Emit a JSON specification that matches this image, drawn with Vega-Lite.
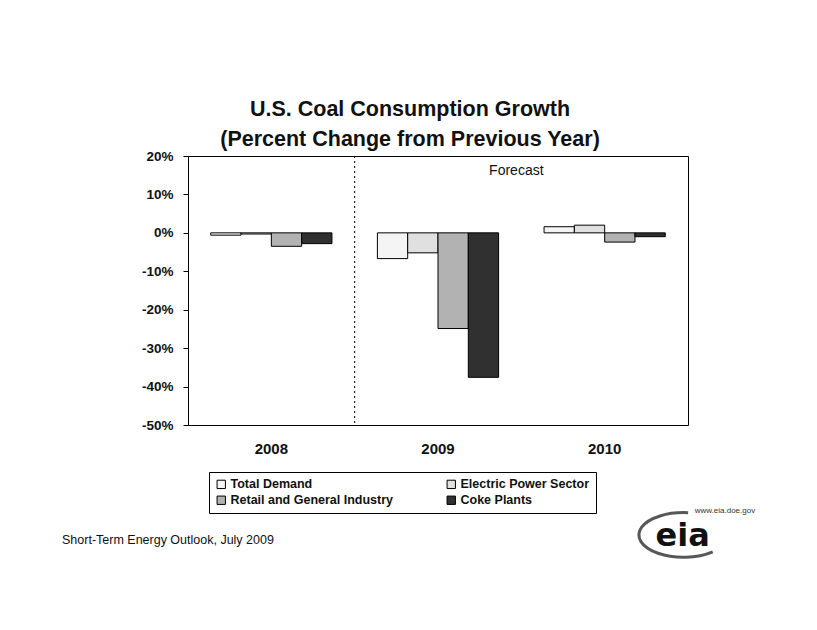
{
  "$schema": "https://vega.github.io/schema/vega-lite/v6.json",
  "width": 500,
  "height": 269,
  "autosize": {"type": "none"},
  "padding": {"left": 188, "top": 156, "right": 129, "bottom": 205},
  "background": "white",
  "title": {
    "text": ["U.S. Coal Consumption Growth", "(Percent Change from Previous Year)"],
    "font": "Liberation Sans",
    "fontSize": 21.5,
    "fontWeight": "bold",
    "lineHeight": 30,
    "anchor": "middle",
    "frame": "group",
    "dx": -28,
    "offset": -1,
    "color": "#111"
  },
  "config": {
    "view": {"stroke": "#000", "strokeWidth": 1},
    "font": "Liberation Sans",
    "axisY": {"labelOverlap": false, "labelFlush": false, "labelBound": false}
  },
  "layer": [
    {
      "data": {"values": [
        {"year": "2008", "series": "Total Demand", "pct": -0.6},
        {"year": "2008", "series": "Electric Power Sector", "pct": -0.3},
        {"year": "2008", "series": "Retail and General Industry", "pct": -3.5},
        {"year": "2008", "series": "Coke Plants", "pct": -2.8},
        {"year": "2009", "series": "Total Demand", "pct": -6.7},
        {"year": "2009", "series": "Electric Power Sector", "pct": -5.2},
        {"year": "2009", "series": "Retail and General Industry", "pct": -24.9},
        {"year": "2009", "series": "Coke Plants", "pct": -37.6},
        {"year": "2010", "series": "Total Demand", "pct": 1.6},
        {"year": "2010", "series": "Electric Power Sector", "pct": 2.0},
        {"year": "2010", "series": "Retail and General Industry", "pct": -2.4},
        {"year": "2010", "series": "Coke Plants", "pct": -1.0}
      ]},
      "mark": {"type": "bar", "stroke": "#000", "strokeWidth": 1},
      "encoding": {
        "x": {
          "field": "year", "type": "nominal",
          "scale": {"paddingInner": 0, "paddingOuter": 0},
          "axis": {
            "title": null, "labelAngle": 0, "ticks": false, "domain": false,
            "labelFont": "Liberation Sans", "labelFontWeight": "bold", "labelFontSize": 15,
            "labelColor": "#111", "labelPadding": 16
          }
        },
        "xOffset": {
          "field": "series", "type": "nominal",
          "sort": ["Total Demand", "Electric Power Sector", "Retail and General Industry", "Coke Plants"],
          "scale": {"paddingInner": 0, "paddingOuter": 0.75}
        },
        "y": {
          "field": "pct", "type": "quantitative",
          "scale": {"domain": [-50, 20], "nice": false, "zero": false},
          "axis": {
            "title": null, "grid": false, "values": [-50, -40, -30, -20, -10, 0, 10, 20],
            "tickCount": 8,
            "labelExpr": "datum.value + '%'", "labelOverlap": false, "labelFlush": false,
            "labelFont": "Liberation Sans", "labelFontWeight": "bold", "labelFontSize": 13.5,
            "labelColor": "#111", "tickColor": "#000", "tickSize": 5, "labelPadding": 10,
            "domainColor": "#000"
          }
        },
        "color": {
          "field": "series", "type": "nominal",
          "scale": {
            "domain": ["Total Demand", "Electric Power Sector", "Retail and General Industry", "Coke Plants"],
            "range": ["#f4f4f4", "#e0e0e0", "#b2b2b2", "#303030"]
          },
          "legend": {
            "title": null, "orient": "none", "legendX": 21, "legendY": 316,
            "direction": "horizontal", "columns": 2, "columnPadding": 51, "rowPadding": 3,
            "symbolType": "square", "symbolSize": 70, "symbolStrokeColor": "#000", "symbolStrokeWidth": 1,
            "labelFont": "Liberation Sans", "labelFontWeight": "bold", "labelFontSize": 12.5,
            "labelColor": "#111", "labelOffset": 3, "labelLimit": 300,
            "strokeColor": "#000", "padding": 6, "fillColor": "white"
          }
        }
      }
    },
    {
      "mark": {"type": "rule", "color": "#000", "strokeWidth": 1},
      "encoding": {"y": {"datum": 0}}
    },
    {
      "data": {"values": [{"year": "2009", "top": 20, "bottom": -50}]},
      "mark": {"type": "rule", "color": "#000", "strokeWidth": 1, "strokeDash": [2, 3]},
      "encoding": {
        "x": {"field": "year", "type": "nominal", "bandPosition": 0},
        "y": {"field": "top", "type": "quantitative"},
        "y2": {"field": "bottom"}
      }
    },
    {
      "data": {"values": [{"year": "2010", "pct": 16.2, "label": "Forecast"}]},
      "mark": {"type": "text", "fontSize": 14, "font": "Liberation Sans", "color": "#111", "align": "center", "baseline": "middle", "dx": -5},
      "encoding": {
        "x": {"field": "year", "type": "nominal", "bandPosition": 0},
        "y": {"field": "pct", "type": "quantitative"},
        "text": {"field": "label"}
      }
    },
    {
      "data": {"values": [{"year": "2008", "pct": -80, "label": "Short-Term Energy Outlook, July 2009"}]},
      "mark": {"type": "text", "fontSize": 12.5, "font": "Liberation Sans", "color": "#111", "align": "left", "baseline": "middle", "dx": -126},
      "encoding": {
        "x": {"field": "year", "type": "nominal", "bandPosition": 0},
        "y": {"field": "pct", "type": "quantitative"},
        "text": {"field": "label"}
      }
    },
    {
      "data": {"values": [{"year": "2010", "pct": -78.6}]},
      "mark": {"type": "point", "filled": false, "stroke": "#111", "strokeWidth": 3, "size": 8000, "xOffset": 79,
               "shape": "M 0.1,-0.497 A 1 0.5 0 1 0 0.65 0.38"},
      "encoding": {
        "x": {"field": "year", "type": "nominal", "bandPosition": 0.5},
        "y": {"field": "pct", "type": "quantitative"}
      }
    },
    {
      "data": {"values": [{"year": "2010", "pct": -81.5, "label": "eia"}]},
      "mark": {"type": "text", "fontSize": 32, "font": "DejaVu Sans", "fontWeight": "bold", "color": "#111", "align": "center", "baseline": "alphabetic", "dx": 78},
      "encoding": {
        "x": {"field": "year", "type": "nominal", "bandPosition": 0.5},
        "y": {"field": "pct", "type": "quantitative"},
        "text": {"field": "label"}
      }
    },
    {
      "data": {"values": [{"year": "2010", "pct": -72.5, "label": "www.eia.doe.gov"}]},
      "mark": {"type": "text", "fontSize": 8, "font": "Liberation Sans", "color": "#333", "align": "left", "baseline": "middle", "dx": 90},
      "encoding": {
        "x": {"field": "year", "type": "nominal", "bandPosition": 0.5},
        "y": {"field": "pct", "type": "quantitative"},
        "text": {"field": "label"}
      }
    }
  ]
}
